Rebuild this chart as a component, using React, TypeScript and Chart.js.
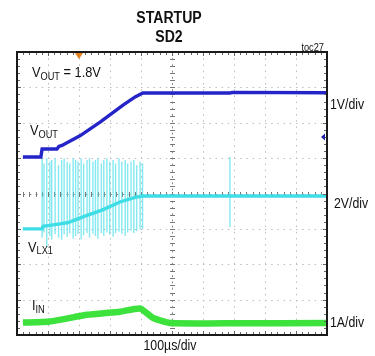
import React, { useEffect, useRef } from "react";
import { Chart, registerables } from "chart.js";

Chart.register(...registerables);

// Time axis in µs (100 µs/div, 10 divisions); vertical axis in screen divisions (8 divisions)
const X_MIN = 0;
const X_MAX = 1000;
const Y_MIN = 0;
const Y_MAX = 8;
const X_DIVS = 10;
const Y_DIVS = 8;

// VOUT trace (1V/div)
const voutTime = [19, 77, 81, 129, 135, 145, 203, 268, 342, 381, 406, 687, 694, 1000];
const voutLevel = [5.03, 5.03, 5.26, 5.26, 5.33, 5.36, 5.63, 6.02, 6.5, 6.73, 6.84, 6.84, 6.86, 6.85];

// VLX1 average trace (2V/div)
const vlxTime = [19, 81, 84, 139, 165, 219, 274, 332, 381, 406, 1000];
const vlxLevel = [3.0, 3.0, 3.07, 3.14, 3.18, 3.36, 3.53, 3.76, 3.89, 3.93, 3.93];

// VLX1 switching spikes
const spikeTime = [81, 87, 96, 106, 112, 123, 134, 144, 152, 162, 170, 181, 189, 197, 207, 215, 226, 234, 245, 253, 261, 272, 280, 290, 299, 310, 318, 329, 338, 349, 357, 368, 377, 386, 397, 405, 687];
const spikeHigh = [5.0, 4.85, 5.0, 4.9, 4.95, 5.0, 4.8, 4.95, 5.0, 4.9, 4.85, 5.0, 4.95, 4.9, 5.0, 4.85, 4.95, 5.0, 4.9, 4.95, 5.0, 4.85, 4.95, 5.0, 4.9, 4.95, 4.85, 5.0, 4.9, 4.95, 4.85, 4.9, 4.95, 4.8, 4.9, 4.85, 5.03];
const spikeLow = [2.75, 2.9, 2.49, 2.8, 2.7, 2.85, 2.75, 2.69, 2.85, 2.78, 2.88, 2.72, 2.8, 2.86, 2.7, 2.82, 2.88, 2.75, 2.86, 2.8, 2.72, 2.88, 2.8, 2.9, 2.84, 2.78, 2.88, 2.92, 2.86, 2.8, 2.9, 2.95, 2.88, 2.94, 2.98, 3.0, 3.05];

// IIN trace (1A/div)
const iinTime = [19, 106, 226, 332, 397, 439, 494, 700, 1000];
const iinLevel = [0.35, 0.38, 0.57, 0.66, 0.75, 0.48, 0.34, 0.33, 0.34];

const FONT = '"Liberation Sans", Arial, Helvetica, sans-serif';
const SX = 0.88;

type Part = { text: string; size: number; dy?: number; bold?: boolean };

function partsWidth(ctx: CanvasRenderingContext2D, parts: Part[]) {
  let w = 0;
  for (const p of parts) {
    ctx.font = `${p.bold ? "bold " : ""}${p.size}px ${FONT}`;
    w += ctx.measureText(p.text).width;
  }
  return w * SX;
}

function drawParts(
  ctx: CanvasRenderingContext2D,
  parts: Part[],
  x: number,
  y: number,
  align: "left" | "center" | "right" = "left"
) {
  const w = partsWidth(ctx, parts);
  let sx = x;
  if (align === "center") sx = x - w / 2;
  if (align === "right") sx = x - w;
  ctx.save();
  ctx.translate(sx, y);
  ctx.scale(SX, 1);
  ctx.fillStyle = "#111";
  ctx.textBaseline = "alphabetic";
  ctx.textAlign = "left";
  let cx = 0;
  for (const p of parts) {
    ctx.font = `${p.bold ? "bold " : ""}${p.size}px ${FONT}`;
    ctx.fillText(p.text, cx, p.dy || 0);
    cx += ctx.measureText(p.text).width;
  }
  ctx.restore();
}

const gridPlugin = {
  id: "scopeGrid",
  beforeDatasetsDraw(chart: any) {
    const ctx: CanvasRenderingContext2D = chart.ctx;
    const xs = chart.scales.x;
    const ys = chart.scales.y;
    const { left, right, top, bottom } = chart.chartArea;
    const xStep = (X_MAX - X_MIN) / X_DIVS;
    const yStep = (Y_MAX - Y_MIN) / Y_DIVS;
    ctx.save();
    ctx.strokeStyle = "#bdbdbd";
    ctx.lineWidth = 1;
    ctx.setLineDash([1.5, 4.7]);
    for (let i = 1; i < X_DIVS; i++) {
      if (i === X_DIVS / 2) continue;
      const px = Math.round(xs.getPixelForValue(X_MIN + i * xStep)) + 0.5;
      ctx.beginPath();
      ctx.moveTo(px, top);
      ctx.lineTo(px, bottom);
      ctx.stroke();
    }
    for (let j = 1; j < Y_DIVS; j++) {
      if (j === Y_DIVS / 2) continue;
      const py = Math.round(ys.getPixelForValue(Y_MIN + j * yStep)) + 0.5;
      ctx.beginPath();
      ctx.moveTo(left, py);
      ctx.lineTo(right, py);
      ctx.stroke();
    }
    // center cross lines
    ctx.strokeStyle = "#8a8a8a";
    ctx.setLineDash([2, 4.2]);
    const cxp = Math.round(xs.getPixelForValue((X_MIN + X_MAX) / 2)) + 0.5;
    const cyp = Math.round(ys.getPixelForValue((Y_MIN + Y_MAX) / 2)) + 0.5;
    ctx.beginPath();
    ctx.moveTo(cxp, top);
    ctx.lineTo(cxp, bottom);
    ctx.moveTo(left, cyp);
    ctx.lineTo(right, cyp);
    ctx.stroke();
    ctx.setLineDash([]);
    ctx.strokeStyle = "#777";
    ctx.beginPath();
    for (let k = 1; k < X_DIVS * 5; k++) {
      const px = Math.round(xs.getPixelForValue(X_MIN + (k * xStep) / 5)) + 0.5;
      ctx.moveTo(px, cyp - 2.5);
      ctx.lineTo(px, cyp + 2.5);
    }
    for (let k = 1; k < Y_DIVS * 5; k++) {
      const py = Math.round(ys.getPixelForValue(Y_MIN + (k * yStep) / 5)) + 0.5;
      ctx.moveTo(cxp - 2.5, py);
      ctx.lineTo(cxp + 2.5, py);
    }
    ctx.stroke();
    ctx.restore();
  },
  afterDatasetsDraw(chart: any) {
    const ctx: CanvasRenderingContext2D = chart.ctx;
    const xs = chart.scales.x;
    const ys = chart.scales.y;
    const { left, right, top, bottom } = chart.chartArea;
    const xStep = (X_MAX - X_MIN) / X_DIVS;
    const yStep = (Y_MAX - Y_MIN) / Y_DIVS;
    ctx.save();
    // border ticks
    ctx.strokeStyle = "#666";
    ctx.lineWidth = 1;
    ctx.beginPath();
    for (let k = 1; k < X_DIVS * 5; k++) {
      const px = Math.round(xs.getPixelForValue(X_MIN + (k * xStep) / 5)) + 0.5;
      const len = k % 5 === 0 ? 4 : 3;
      ctx.moveTo(px, top);
      ctx.lineTo(px, top + len);
      ctx.moveTo(px, bottom);
      ctx.lineTo(px, bottom - len);
    }
    for (let k = 1; k < Y_DIVS * 5; k++) {
      const py = Math.round(ys.getPixelForValue(Y_MIN + (k * yStep) / 5)) + 0.5;
      const len = k % 5 === 0 ? 4 : 3;
      ctx.moveTo(left, py);
      ctx.lineTo(left + len, py);
      ctx.moveTo(right, py);
      ctx.lineTo(right - len, py);
    }
    ctx.stroke();
    // frame
    ctx.strokeStyle = "#1a1a1a";
    ctx.lineWidth = 2;
    ctx.strokeRect(left, top, right - left, bottom - top);
    // trigger position marker (top, orange)
    const tx = xs.getPixelForValue(200);
    ctx.fillStyle = "#e0801e";
    ctx.beginPath();
    ctx.moveTo(tx - 4, top + 1);
    ctx.lineTo(tx + 4, top + 1);
    ctx.lineTo(tx, top + 7);
    ctx.closePath();
    ctx.fill();
    // trigger level marker (right, blue)
    const ty = ys.getPixelForValue(5.6);
    ctx.fillStyle = "#2020a8";
    ctx.beginPath();
    ctx.moveTo(right - 2, ty - 3.5);
    ctx.lineTo(right - 2, ty + 3.5);
    ctx.lineTo(right - 6, ty);
    ctx.closePath();
    ctx.fill();
    ctx.restore();
  },
  afterDraw(chart: any) {
    const ctx: CanvasRenderingContext2D = chart.ctx;
    const { left, right, top } = chart.chartArea;
    const mid = (left + right) / 2;
    drawParts(ctx, [{ text: "STARTUP", size: 16, bold: true }], mid - 3, 23, "center");
    drawParts(ctx, [{ text: "SD2", size: 16, bold: true }], mid - 3, 42, "center");
    drawParts(ctx, [{ text: "toc27", size: 10.5 }], right - 3, top - 1, "right");
    drawParts(
      ctx,
      [
        { text: "V", size: 14.5 },
        { text: "OUT", size: 10.5, dy: 3 },
        { text: " = 1.8V", size: 14.5 },
      ],
      left + 15,
      77
    );
    drawParts(
      ctx,
      [
        { text: "V", size: 14.5 },
        { text: "OUT", size: 10.5, dy: 3 },
      ],
      left + 13,
      135
    );
    drawParts(
      ctx,
      [
        { text: "V", size: 14.5 },
        { text: "LX1", size: 10.5, dy: 2 },
      ],
      left + 11,
      252
    );
    drawParts(
      ctx,
      [
        { text: "I", size: 14.5 },
        { text: "IN", size: 10.5, dy: 3 },
      ],
      left + 15,
      310
    );
    drawParts(ctx, [{ text: "1V/div", size: 14 }], right + 3, 109);
    drawParts(ctx, [{ text: "2V/div", size: 14 }], right + 7, 208);
    drawParts(ctx, [{ text: "1A/div", size: 14 }], right + 3, 327);
    drawParts(ctx, [{ text: "100µs/div", size: 14 }], mid - 2, 350, "center");
  },
};

function toPoints(t: number[], v: number[]) {
  return t.map((x, i) => ({ x, y: v[i] }));
}

function spikePoints() {
  const pts: { x: number; y: number | null }[] = [];
  spikeTime.forEach((t, i) => {
    pts.push({ x: t, y: spikeHigh[i] });
    pts.push({ x: t, y: spikeLow[i] });
    pts.push({ x: t, y: null });
  });
  return pts;
}

export default function App() {
  const canvasRef = useRef<HTMLCanvasElement | null>(null);

  useEffect(() => {
    document.body.style.margin = "0";
    const canvas = canvasRef.current;
    if (!canvas) return;
    const chart = new Chart(canvas, {
      type: "line",
      data: {
        datasets: [
          {
            label: "VOUT",
            data: toPoints(voutTime, voutLevel),
            borderColor: "#2424c8",
            borderWidth: 3.4,
            pointRadius: 0,
            tension: 0,
            order: 0,
          },
          {
            label: "VLX1",
            data: toPoints(vlxTime, vlxLevel),
            borderColor: "#3fdde6",
            borderWidth: 3.4,
            pointRadius: 0,
            tension: 0,
            order: 1,
          },
          {
            label: "IIN",
            data: toPoints(iinTime, iinLevel),
            borderColor: "#3de23d",
            borderWidth: 6.5,
            pointRadius: 0,
            tension: 0.15,
            order: 2,
          },
          {
            label: "VLX1 spikes",
            data: spikePoints(),
            borderColor: "rgba(80,224,234,0.7)",
            borderWidth: 1.4,
            pointRadius: 0,
            spanGaps: false,
            order: 3,
          },
        ] as any,
      },
      options: {
        animation: false,
        responsive: false,
        devicePixelRatio: 1,
        layout: { padding: { left: 17, right: 48, top: 52, bottom: 21 } },
        plugins: {
          legend: { display: false },
          tooltip: { enabled: false },
          title: { display: false },
        },
        scales: {
          x: { type: "linear", min: X_MIN, max: X_MAX, display: false },
          y: { type: "linear", min: Y_MIN, max: Y_MAX, display: false },
        },
      },
      plugins: [gridPlugin as any],
    });
    return () => chart.destroy();
  }, []);

  return (
    <div style={{ position: "absolute", left: 0, top: 0, width: 375, height: 356, background: "#fff" }}>
      <canvas ref={canvasRef} width={375} height={356} style={{ width: 375, height: 356, display: "block" }} />
    </div>
  );
}
